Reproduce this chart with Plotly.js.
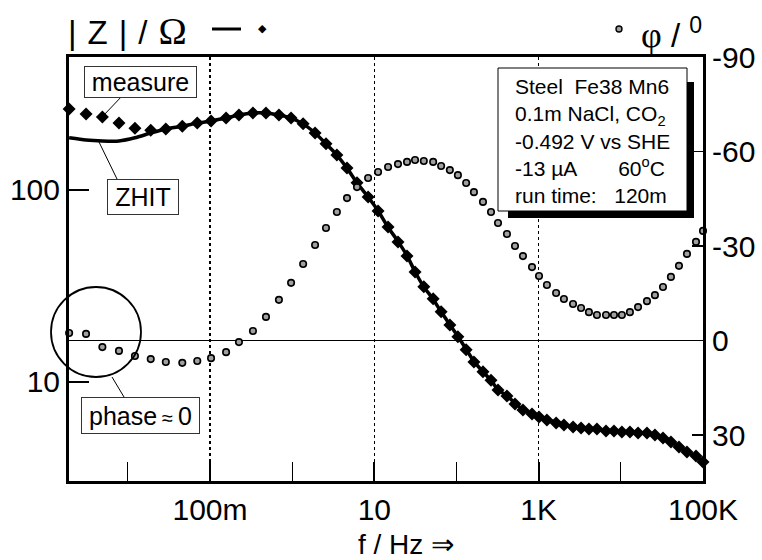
<!DOCTYPE html>
<html>
<head>
<meta charset="utf-8">
<script src="https://cdn.plot.ly/plotly-3.0.1.min.js"></script>
<style>html,body{margin:0;padding:0;background:#fff;}</style>
</head>
<body>
<div id="chart" style="width:762px;height:560px;"></div>
<script>
// ---- data ----
const freq = [0.00193, 0.0031, 0.0049, 0.0078, 0.0122, 0.019, 0.029, 0.046, 0.070, 0.103,
  0.157, 0.225, 0.333, 0.48, 0.69, 0.97, 1.36, 1.9, 2.58, 3.5,
  4.65, 6.15, 8.4, 11.1, 14.7, 19.4, 25, 31.3, 40, 52,
  65, 83, 104, 131, 163, 210, 263, 320, 411, 515,
  644, 830, 1010, 1260, 1630, 2030, 2620, 3280, 4090, 5120,
  6600, 8250, 10300, 12900, 16200, 20800, 26000, 32600, 40700, 51000,
  63800, 82200, 100000];
const zMeasured = [264, 249, 240, 223, 210, 205, 208, 215, 223, 229,
  237, 246, 252, 252, 246, 237, 221, 198, 174, 152,
  130, 109, 92, 77.8, 64.2, 53.6, 45.3, 37.4, 31.3, 27.1,
  23.2, 19.8, 17.2, 14.7, 12.7, 11.3, 10.2, 9.08, 8.45, 7.68,
  7.15, 6.81, 6.57, 6.34, 6.11, 5.97, 5.83, 5.76, 5.69, 5.69,
  5.56, 5.56, 5.49, 5.49, 5.42, 5.42, 5.30, 5.11, 4.87, 4.59,
  4.32, 4.12, 3.83];
const zZhit = [187, 182, 180, 180, 187, 198, 208, 215, 223, 229,
  237, 246, 252, 252, 246, 237, 221, 198, 174, 152,
  130, 109, 92, 78, 64, 54, 45.5, 37.5, 31.3, 27.0,
  23.2, 19.9, 17.3, 14.8, 12.8, 11.3, 10.2, 9.1, 8.5, 7.75,
  7.2, 6.85, 6.6, 6.38, 6.15, 6.0, 5.87, 5.78, 5.71, 5.67,
  5.6, 5.55, 5.51, 5.47, 5.43, 5.39, 5.3, 5.12, 4.88, 4.6,
  4.33, 4.1, 3.83];
const phase = [-2.4, -2.1, 2.1, 3.3, 4.9, 5.9, 6.8, 7.1, 6.5, 5.6,
  3.7, 0.5, -3.0, -7.5, -12.9, -18.3, -24.3, -30.3, -35.7, -40.8,
  -45.2, -48.7, -51.6, -53.5, -55.1, -56.0, -56.7, -57.3, -57.0, -56.7,
  -55.4, -54.1, -52.5, -50.0, -47.1, -44.0, -40.8, -37.3, -33.8, -30.0,
  -26.8, -23.3, -20.5, -17.6, -15.1, -13.2, -11.6, -10.3, -9.0, -8.1,
  -8.1, -8.1, -8.1, -9.0, -10.6, -12.5, -14.4, -17.0, -20.2, -23.7,
  -27.5, -31.3, -34.8];

const xTickVals = [0.1, 10, 1000, 100000];
const xTickText = ['100m', '10', '1K', '100K'];
const xMinorVals = [0.01, 1, 100, 10000];
const zTickVals = [10, 100];
const zTickText = ['10', '100'];
const phaseTickVals = [-90, -60, -30, 0, 30];
const phaseTickText = ['-90', '-60', '-30', '0', '30'];

const infoLines = ['Steel\u00A0\u00A0Fe38 Mn6', '0.1m NaCl, CO<sub>2</sub>', '-0.492 V vs SHE',
  '-13 \u00B5A\u00A0\u00A0\u00A0\u00A0\u00A0\u00A0\u00A060<sup>o</sup>C', 'run time:\u00A0\u00A0\u00A0120m'];

// ---- layout geometry (pixels) ----
const W = 762, H = 560;
const PL = 69, PR = 703, PT = 57, PB = 481;
const px = x => (x - PL) / (PR - PL);
const py = y => (PB - y) / (PB - PT);
const FONT = 'Liberation Sans, Arial, sans-serif';

const traces = [
  {x: freq, y: phase, yaxis: 'y2', type: 'scatter', mode: 'markers', cliponaxis: false,
   marker: {symbol: 'circle', size: 6.5, color: '#a0a0a0', line: {color: '#000', width: 1.6}},
   hoverinfo: 'skip', showlegend: false},
  {x: freq, y: zZhit, type: 'scatter', mode: 'lines', line: {color: '#000', width: 3.5, shape: 'spline', smoothing: 0.6},
   hoverinfo: 'skip', showlegend: false},
  {x: freq, y: zMeasured, type: 'scatter', mode: 'markers', cliponaxis: false,
   marker: {symbol: 'diamond', size: 10, color: '#000'}, hoverinfo: 'skip', showlegend: false}
];

const annBox = (text, cx, cy, w, h) => ({
  text: text, xref: 'paper', yref: 'paper', x: px(cx), y: py(cy), xanchor: 'center', yanchor: 'middle',
  showarrow: false, font: {family: FONT, size: 25, color: '#000'}, bgcolor: '#fff',
  bordercolor: '#333', borderwidth: 1, borderpad: 1, width: w, height: h
});

const SP = '\u2004';

const layout = {
  width: W, height: H,
  margin: {l: PL, r: W - PR, t: PT, b: H - PB, pad: 0},
  paper_bgcolor: '#fff', plot_bgcolor: '#fff',
  showlegend: false,
  font: {family: FONT, size: 30, color: '#000'},
  xaxis: {
    type: 'log', range: [-2.716, 5.0],
    tickmode: 'array', tickvals: xTickVals, ticktext: xTickText,
    ticks: 'inside', ticklen: 19, tickwidth: 2, tickcolor: '#000',
    showgrid: true, gridcolor: '#000', griddash: 'dot', gridwidth: 1.5,
    minor: {tickmode: 'array', tickvals: xMinorVals, ticks: 'inside', ticklen: 19, tickwidth: 1.2, tickcolor: '#000', showgrid: false},
    showline: true, linecolor: '#000', linewidth: 3, mirror: true,
    zeroline: false, tickfont: {family: FONT, size: 30, color: '#000'}, ticklabelstandoff: 0
  },
  yaxis: {
    type: 'log', range: [0.4843, 2.6927],
    tickmode: 'array', tickvals: zTickVals, ticktext: zTickText,
    ticks: 'inside', ticklen: 20, tickwidth: 2, tickcolor: '#000',
    showgrid: false, zeroline: false,
    showline: true, linecolor: '#000', linewidth: 3,
    tickfont: {family: FONT, size: 30, color: '#000'}, ticklabelstandoff: 0
  },
  yaxis2: {
    overlaying: 'y', side: 'right', range: [44.6, -90],
    tickmode: 'array', tickvals: phaseTickVals, ticktext: phaseTickText,
    ticks: 'inside', ticklen: 11, tickwidth: 1.5, tickcolor: '#000',
    showgrid: false, zeroline: true, zerolinecolor: '#000', zerolinewidth: 1.5,
    showline: true, linecolor: '#000', linewidth: 3,
    tickfont: {family: FONT, size: 30, color: '#000'}, ticklabelstandoff: 0
  },
  shapes: [
    {type: 'circle', xref: 'paper', yref: 'paper', x0: px(51), x1: px(141), y0: py(377), y1: py(287),
     line: {color: '#000', width: 1.8}},
    {type: 'line', xref: 'paper', yref: 'paper', x0: px(123), y0: py(95), x1: px(103), y1: py(116), line: {color: '#000', width: 1}},
    {type: 'line', xref: 'paper', yref: 'paper', x0: px(117), y0: py(179), x1: px(99), y1: py(142), line: {color: '#000', width: 1}},
    {type: 'line', xref: 'paper', yref: 'paper', x0: px(112), y0: py(377), x1: px(124), y1: py(397), line: {color: '#000', width: 1}},
    {type: 'rect', xref: 'paper', yref: 'paper', x0: px(508), x1: px(694), y0: py(218), y1: py(82),
     fillcolor: '#000', line: {width: 0}},
    {type: 'rect', xref: 'paper', yref: 'paper', x0: px(498), x1: px(687), y0: py(211), y1: py(68),
     fillcolor: '#fff', line: {color: '#000', width: 1}},
    {type: 'line', xref: 'paper', yref: 'paper', x0: px(212), x1: px(241), y0: py(29), y1: py(29), line: {color: '#000', width: 3}},
    {type: 'circle', xref: 'paper', yref: 'paper', x0: px(616), x1: px(622), y0: py(32), y1: py(26),
     fillcolor: '#a0a0a0', line: {color: '#000', width: 1.4}}
  ],
  annotations: [
    {text: '|' + SP + 'Z' + SP + '|' + SP + '/' + SP + '<span style="font-family:Liberation Serif;font-size:38px">\u03A9</span>', xref: 'paper', yref: 'paper',
     x: px(66), y: py(31), xanchor: 'left', yanchor: 'middle', showarrow: false,
     font: {family: FONT, size: 33, color: '#000'}},
    {text: '\u25C6', xref: 'paper', yref: 'paper', x: px(262), y: py(29), xanchor: 'center', yanchor: 'middle',
     showarrow: false, font: {family: 'DejaVu Sans', size: 11, color: '#000'}},
    {text: '<span style="font-family:Liberation Serif;font-size:36px">\u03C6</span> / <sup>0</sup>', xref: 'paper', yref: 'paper',
     x: px(639), y: py(33), xanchor: 'left', yanchor: 'middle', showarrow: false,
     font: {family: FONT, size: 33, color: '#000'}},
    {text: 'f / Hz \u21D2', xref: 'paper', yref: 'paper', x: px(406), y: py(544), xanchor: 'center', yanchor: 'middle',
     showarrow: false, font: {family: FONT, size: 28, color: '#000'}},
    annBox('measure', 140.5, 82, 109, 28),
    annBox('ZHIT', 143, 197, 68, 32),
    annBox('phase\u2009<span style="font-size:20px">\u2248</span>\u20090', 140.5, 415.5, 115, 33),
    {text: infoLines.join('<br>'), xref: 'paper', yref: 'paper', x: px(513), y: py(73),
     xanchor: 'left', yanchor: 'top', align: 'left', showarrow: false,
     font: {family: FONT, size: 21, color: '#000'}}
  ]
};

Plotly.newPlot('chart', traces, layout, {staticPlot: true, displayModeBar: false});
</script>
</body>
</html>
